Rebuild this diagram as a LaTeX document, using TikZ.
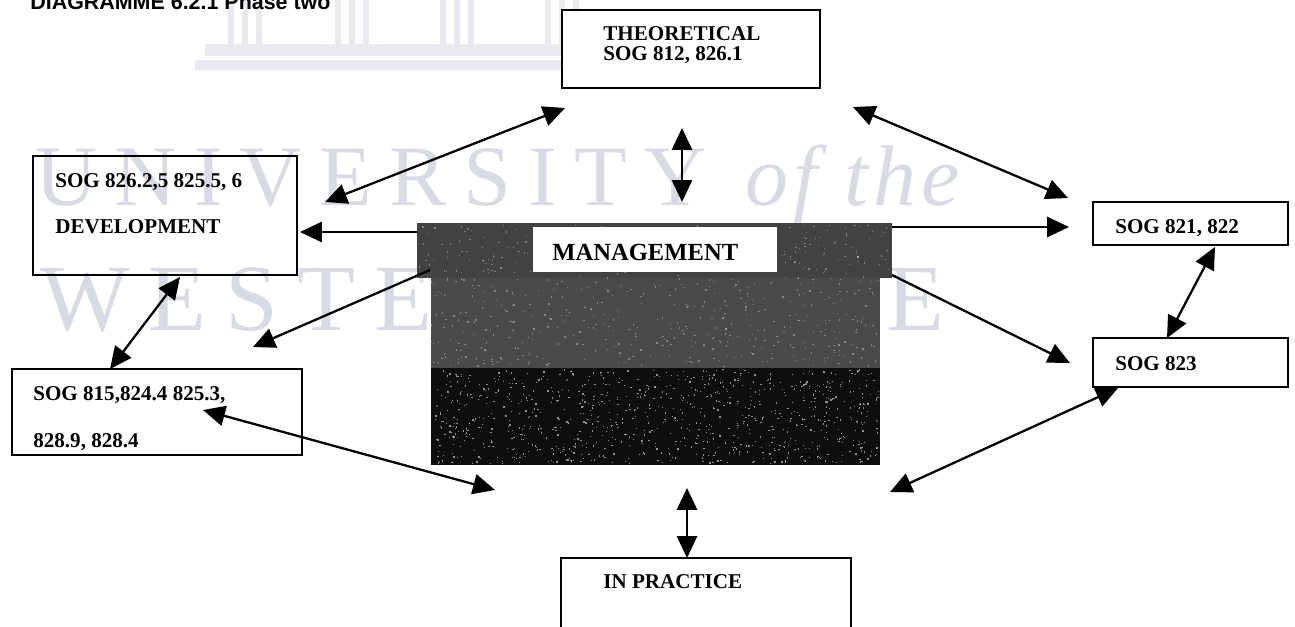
\documentclass[tikz,border=0pt]{standalone}
\usepackage{fontspec}
\setmainfont{Liberation Serif}
\newfontfamily\titlefont{Liberation Sans}
\newfontfamily\wmfont[LetterSpace=20]{Liberation Serif}
\newfontfamily\wmitfont[LetterSpace=6]{Liberation Serif Italic}
\usetikzlibrary{arrows.meta, positioning, calc, fit}

\definecolor{wmgray}{RGB}{216,219,228}
\definecolor{wmlight}{RGB}{232,234,240}
\definecolor{mgmttop}{RGB}{66,66,66}
\definecolor{mgmtmid}{RGB}{74,74,74}
\definecolor{mgmtlow}{RGB}{14,14,14}

\begin{document}
\begin{tikzpicture}[x=0.02cm, y=-0.02cm, >={Triangle[length=12.5pt,width=11.5pt]},
    sogbox/.style={draw, line width=1.1pt, inner sep=0pt},
    sogtext/.style={font=\bfseries\fontsize{12}{14}\selectfont, anchor=base west, inner sep=0pt},
    link/.style={<->, line width=1.3pt},
    push/.style={->, line width=1.3pt}]

\useasboundingbox (0,0) rectangle (1295,626);

% ── WATERMARK ─────────────────────────────────────────────────────
% pillars of the crest
\foreach \gx in {228, 335, 440, 545} {
    \foreach \dx in {0, 14, 28} {
        \fill[wmlight] (\gx+\dx,0) rectangle (\gx+\dx+6,44);
    }
}
\fill[wmlight] (205,44) rectangle (655,56);
\fill[wmlight] (195,60) rectangle (665,70);

\node[font=\wmfont\fontsize{49}{49}\selectfont, text=wmgray, anchor=base west, inner sep=0pt]
    (wmtop) at (35,205) {UNIVERSITY};
\node[font=\wmitfont\fontsize{49}{49}\selectfont, text=wmgray, anchor=base west, inner sep=0pt]
    (wmof) at (745,205) {of the};
\node[font=\wmfont\fontsize{54}{54}\selectfont, text=wmgray, anchor=base west, inner sep=0pt]
    (wmbot) at (40,330) {WESTERN CAPE};

% Title (cut at the top edge)
\node[font=\titlefont\bfseries\fontsize{12.2}{14}\selectfont, anchor=base west, inner sep=0pt]
    (title) at (30,9) {DIAGRAMME 6.2.1 Phase two};

% ── CENTRE: MANAGEMENT ────────────────────────────────────────────
\fill[mgmttop] (417,223) rectangle (892,278);
\fill[mgmtmid] (431,278) rectangle (880,368);
\fill[mgmtlow] (431,368) rectangle (880,465);
% speckle of the print
\pgfmathsetseed{12}
\foreach \i in {1,...,900} {
    \pgfmathsetmacro{\px}{432+446*rnd}
    \pgfmathsetmacro{\py}{369+94*rnd}
    \fill[white, opacity=0.55] (\px,\py) rectangle ++(1.3,1.3);
}
\foreach \i in {1,...,700} {
    \pgfmathsetmacro{\px}{418+472*rnd}
    \pgfmathsetmacro{\py}{224+142*rnd}
    \fill[white, opacity=0.35] (\px,\py) rectangle ++(1.3,1.3);
}
\node[fit={(417,223) (892,465)}, inner sep=0pt] (mgmt) {};
\node[fill=white, fit={(533,227) (777,272)}, inner sep=0pt] (mgmtbox) {};
\node[font=\bfseries\fontsize{14}{16}\selectfont, anchor=base west, inner sep=0pt]
    (mgmttxt) at (552,260) {MANAGEMENT};

% ── BOXES ─────────────────────────────────────────────────────────
\node[sogbox, fill=white, fit={(562,10) (820,88)}] (theo) {};
\node[sogtext] (theotxt) at (603,40) {THEORETICAL};
\node[sogtext] (theotxtb) at (603,60) {SOG 812, 826.1};

\node[sogbox, fit={(33,156) (297,275)}] (dev) {};
\node[sogtext] (devtxt) at (55,187) {SOG 826.2,5 825.5, 6};
\node[sogtext] (devtxtb) at (55,233) {DEVELOPMENT};

\node[sogbox, fit={(12,369) (302,455)}] (sogl) {};
\node[sogtext] (sogltxt) at (33,400) {SOG 815,824.4 825.3,};
\node[sogtext] (sogltxtb) at (33,447) {828.9, 828.4};

\node[sogbox, fit={(1093,202) (1288,245)}] (sogr) {};
\node[sogtext] (sogrtxt) at (1115,233) {SOG 821, 822};

\node[sogbox, fit={(1093,338) (1288,387)}] (sogm) {};
\node[sogtext] (sogmtxt) at (1115,370) {SOG 823};

\node[sogbox, fit={(561,558) (851,640)}] (prac) {};
\node[sogtext] (practxt) at (603,588) {IN PRACTICE};

% ── ARROW ENDS ────────────────────────────────────────────────────
\coordinate (devNE)   at (325,202);
\coordinate (theoSW)  at (565,108);
\coordinate (theoS)   at (682,128);
\coordinate (mgmtN)   at (682,202);
\coordinate (theoSE)  at (853,107);
\coordinate (sogrNW)  at (1068,198);
\coordinate (mgmtE)   at (892,227);
\coordinate (sogrW)   at (1069,227);
\coordinate (mgmtW)   at (417,232);
\coordinate (devE)    at (300,232);
\coordinate (mgmtSW)  at (430,270);
\coordinate (sogfree) at (253,347);
\coordinate (mgmtSE)  at (892,275);
\coordinate (sogmW)   at (1070,363);
\coordinate (soglN)   at (110,369);
\coordinate (devS)    at (180,277);
\coordinate (soglE)   at (203,410);
\coordinate (pracNW)  at (495,490);
\coordinate (mgmtS)   at (687,488);
\coordinate (pracN)   at (687,558);
\coordinate (sogmSW)  at (1118,388);
\coordinate (pracNE)  at (890,492);
\coordinate (sogrS)   at (1215,247);
\coordinate (sogmN)   at (1167,338);

% ── CONNECTORS ────────────────────────────────────────────────────
\draw[link] (devNE) -- (theoSW);
\draw[link] (theoS) -- (mgmtN);
\draw[link] (theoSE) -- (sogrNW);
\draw[push] (mgmtE) -- (sogrW);
\draw[push] (mgmtW) -- (devE);
\draw[push] (mgmtSW) -- (sogfree);
\draw[push] (mgmtSE) -- (sogmW);
\draw[link] (soglN) -- (devS);
\draw[link] (soglE) -- (pracNW);
\draw[link] (mgmtS) -- (pracN);
\draw[link] (sogmSW) -- (pracNE);
\draw[link] (sogrS) -- (sogmN);

\end{tikzpicture}
\end{document}
